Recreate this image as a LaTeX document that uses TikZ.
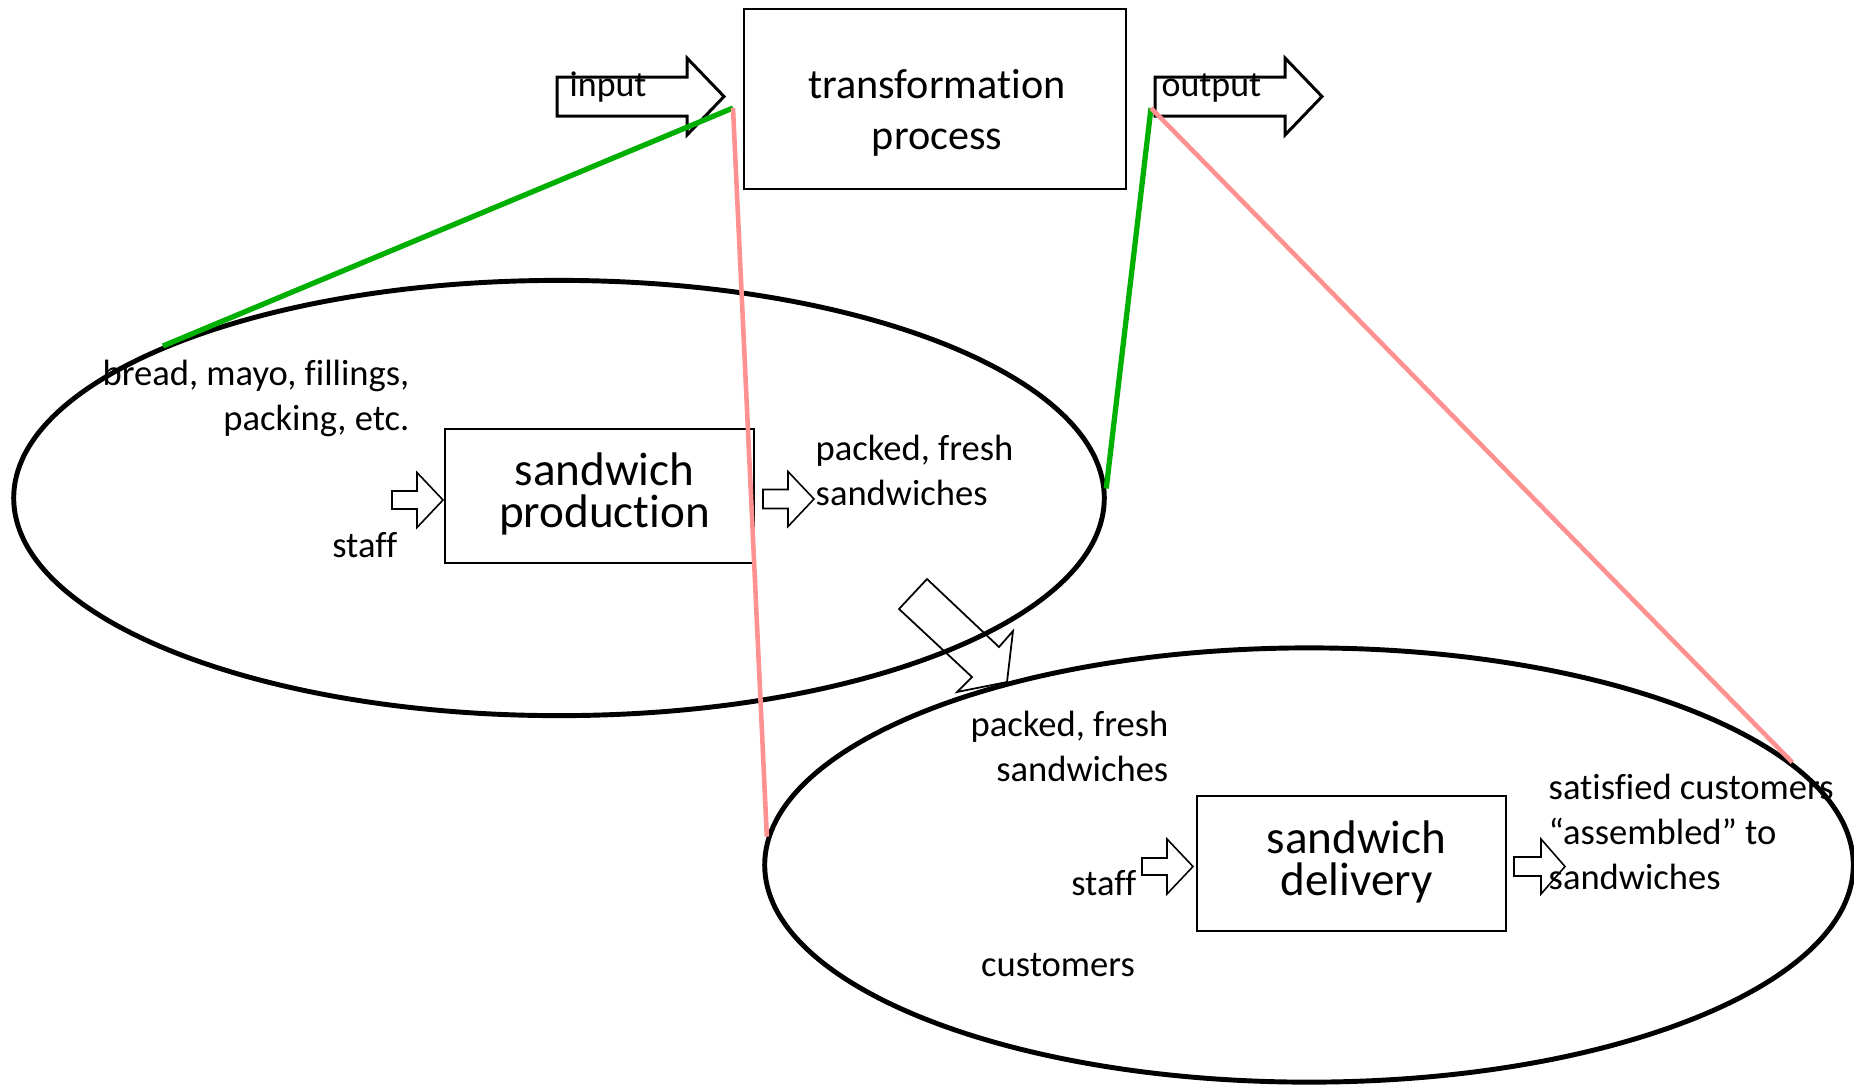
\documentclass[tikz,border=0pt]{standalone}
\usepackage{fontspec}
\setmainfont{Carlito}[Ligatures=NoCommon]
\usetikzlibrary{shapes.geometric}

% outlined block arrow: style, tail x, head base x, tip x, centre y, half shaft, half head
\newcommand\blockarrow[7]{%
  \draw[#1] (#2,#5-#6) -- (#3,#5-#6) -- (#3,#5-#7) -- (#4,#5)
    -- (#3,#5+#7) -- (#3,#5+#6) -- (#2,#5+#6) -- cycle;}

\definecolor{linkgreen}{RGB}{0,176,0}
\definecolor{linkpink}{RGB}{255,145,145}

\tikzset{
  ring/.style={draw, ellipse, line width=1.4pt, inner sep=0pt},
  procbox/.style={draw, line width=0.7pt, inner sep=0pt, align=center},
  bigfont/.style={font=\fontsize{13.4}{12.1}\selectfont},
  label/.style={font=\fontsize{10.4}{12.8}\selectfont, inner sep=0pt},
  flowarrow/.style={line width=0.85pt, line join=miter},
  smallarrow/.style={line width=0.45pt, line join=miter},
  greenlink/.style={linkgreen, line width=1.5pt},
  pinklink/.style={linkpink, line width=1.3pt},
}

\begin{document}
\begin{tikzpicture}[x=0.01cm, y=-0.01cm]
  \useasboundingbox (0,0) rectangle (1854,1084);

  % the two stage ellipses
  \node[ring, minimum width=10.9cm, minimum height=4.35cm] (prodring) at (559,498) {};
  \node[ring, minimum width=10.88cm, minimum height=4.34cm] (delring) at (1309,865) {};

  % top level: input -> transformation process -> output
  \node[procbox, minimum width=3.82cm, minimum height=1.795cm] (tp) at (935,99) {};
  \node[align=center, inner sep=0pt, font=\fontsize{12}{14.5}\selectfont] (tptext) at (937,113) {transformation\\process};
  \blockarrow{flowarrow}{557}{687}{724}{96.5}{19.5}{38.5}
  \blockarrow{flowarrow}{1155}{1285}{1322}{96.5}{19.5}{38.5}
  \node[font=\fontsize{10.2}{12}\selectfont, inner sep=0pt, anchor=base west] (inlbl) at (569,96) {input};
  \node[font=\fontsize{10.2}{12}\selectfont, inner sep=0pt, anchor=base west] (outlbl) at (1161,96) {output};
  \coordinate (inend) at (733,108);
  \coordinate (outend) at (1151,108);

  % sandwich production stage
  \node[procbox, minimum width=3.09cm, minimum height=1.34cm] (prod) at (599.5,496) {};
  \node[bigfont, align=center, inner sep=0pt] (prodtext) at (604.5,494) {sandwich\\production};
  \node[label, align=right, anchor=east] (rawmat) at (410,398) {bread, mayo, fillings,\\packing, etc.};
  \node[label, anchor=east] (staffa) at (398,545) {staff};
  \node[label, align=left, anchor=west] (packeda) at (815,470) {packed, fresh\\sandwiches};
  \blockarrow{smallarrow}{392}{417}{443}{500}{9}{27.5}
  \blockarrow{smallarrow}{763}{788}{814}{499}{9.5}{27.5}

  % hand-over between the stages
  \draw[smallarrow, line width=0.5pt] (927,579) -- (999,647) -- (1013,631) -- (1007,682)
    -- (957,692) -- (972,677) -- (899,609) -- cycle;

  % sandwich delivery stage
  \node[procbox, minimum width=3.09cm, minimum height=1.35cm] (deliv) at (1351.5,863.5) {};
  \node[bigfont, align=center, inner sep=0pt] (delivtext) at (1356.5,862) {sandwich\\delivery};
  \node[label, align=right, anchor=east] (packedb) at (1169,746) {packed, fresh\\sandwiches};
  \node[label, anchor=east] (staffb) at (1137,883) {staff};
  \node[label] (cust) at (1058,965) {customers};
  \node[label, align=left, anchor=west] (satisfied) at (1548,832) {satisfied customers\\“assembled” to\\sandwiches};
  \blockarrow{smallarrow}{1142}{1167}{1193}{866.5}{8.5}{27.5}
  \blockarrow{smallarrow}{1514}{1541}{1565}{866.5}{9.5}{27.5}

  % zoom lines from the top level down to each stage
  \draw[greenlink] (inend) -- (prodring.159.5);
  \draw[pinklink] (inend) -- (delring.177.4);
  \draw[greenlink] (outend) -- (prodring.1.4);
  \draw[pinklink] (outend) -- (delring.12);
\end{tikzpicture}
\end{document}
